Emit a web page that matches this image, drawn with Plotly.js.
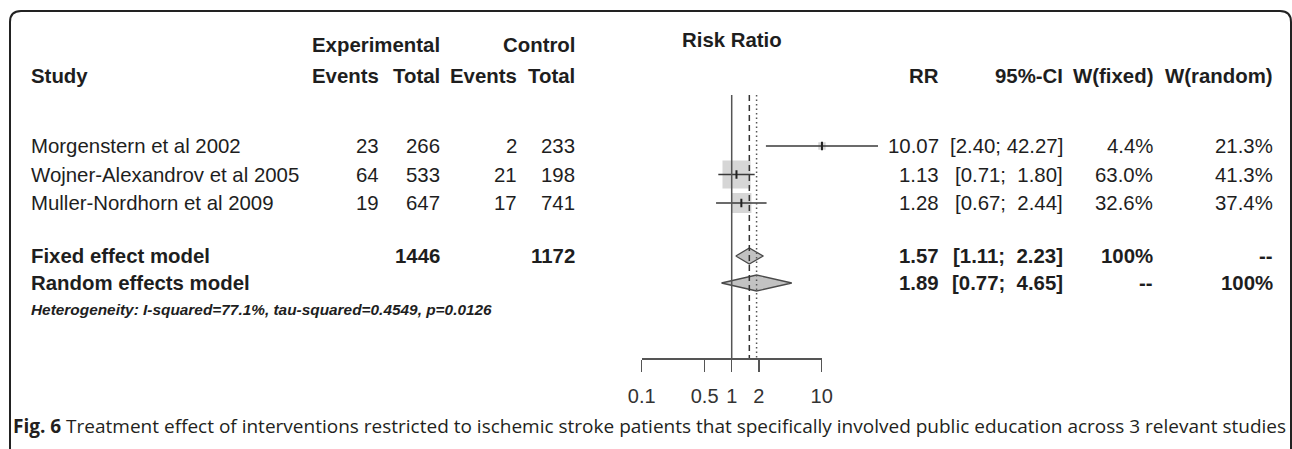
<!DOCTYPE html>
<html>
<head>
<meta charset="utf-8">
<script src="https://cdn.plot.ly/plotly-3.0.1.min.js"></script>
<style>
html,body{margin:0;padding:0;background:#fff;}
#chart{width:1292px;height:449px;}
</style>
</head>
<body>
<div id="chart"></div>
<script>
// ---------------- data ----------------
const studies = ['Morgenstern et al 2002', 'Wojner-Alexandrov et al 2005', 'Muller-Nordhorn et al 2009'];
const expEvents = [23, 64, 19];
const expTotal = [266, 533, 647];
const ctrlEvents = [2, 21, 17];
const ctrlTotal = [233, 198, 741];
const rr = [10.07, 1.13, 1.28];
const ciLow = [2.40, 0.71, 0.67];
const ciHigh = [42.27, 1.80, 2.44];
const wFixed = [4.4, 63.0, 32.6];
const wRandom = [21.3, 41.3, 37.4];

const modelNames = ['Fixed effect model', 'Random effects model'];
const modelRR = [1.57, 1.89];
const modelLow = [1.11, 0.77];
const modelHigh = [2.23, 4.65];
const modelWFixed = ['100%', '--'];
const modelWRandom = ['--', '100%'];
const expTotalSum = 1446;
const ctrlTotalSum = 1172;
const heterogeneity = 'Heterogeneity: I-squared=77.1%, tau-squared=0.4549, p=0.0126';

const tickVals = [0.1, 0.5, 1, 2, 10];
const tickText = ['0.1', '0.5', '1', '2', '10'];
const nullEffect = 1;

const caption = '<b>Fig. 6</b> Treatment effect of interventions restricted to ischemic stroke patients that specifically involved public education across 3 relevant studies';

// ---------------- layout (pixel positions of the rows) ----------------
const W = 1292, H = 449;
const rowY = {
  riskRatio: 40, head1: 45, head2: 76,
  studies: [146, 174.5, 203], models: [256, 283], het: 309,
  axis: 358, refTop: 95, caption: 426
};
const FONT = 'Liberation Sans, Arial, Helvetica, sans-serif';
const FS = 20.4;
const TXT = '#1e1e1e';

const col = {study: 30, expEv: 380, expTot: 441, ctrlEv: 518, ctrlTot: 576,
             rr: 940, ci: 1064, wf: 1154, wr: 1274};

const annotations = [];
function txt(s, x, y, anchor, opt) {
  opt = opt || {};
  annotations.push({
    text: s, xref: 'paper', yref: 'y', x: x / W, y: y,
    xanchor: anchor, yanchor: 'middle', showarrow: false,
    borderpad: 0,
    font: {family: opt.family || FONT, size: opt.size || FS, color: opt.color || TXT}
  });
}
const b = s => '<b>' + s + '</b>';
function fmtCI(lo, hi) {
  const l = lo.toFixed(2), h = hi.toFixed(2);
  const pad = Math.max(0, 5 - h.length);
  return '[' + l + ';\u00a0' + '\u00a0'.repeat(pad) + h + ']';
}

// headers
txt(b('Experimental'), col.expTot, rowY.head1, 'right');
txt(b('Control'), col.ctrlTot, rowY.head1, 'right');
txt(b('Risk Ratio'), 731.7, rowY.riskRatio, 'center');
txt(b('Study'), col.study, rowY.head2, 'left');
txt(b('Events'), col.expEv, rowY.head2, 'right');
txt(b('Total'), col.expTot, rowY.head2, 'right');
txt(b('Events'), col.ctrlEv, rowY.head2, 'right');
txt(b('Total'), col.ctrlTot, rowY.head2, 'right');
txt(b('RR'), col.rr, rowY.head2, 'right');
txt(b('95%-CI'), col.ci, rowY.head2, 'right');
txt(b('W(fixed)'), col.wf, rowY.head2, 'right');
txt(b('W(random)'), col.wr, rowY.head2, 'right');

// study rows
studies.forEach((s, i) => {
  const r = rowY.studies[i];
  txt(s, col.study, r, 'left');
  txt(String(expEvents[i]), col.expEv, r, 'right');
  txt(String(expTotal[i]), col.expTot, r, 'right');
  txt(String(ctrlEvents[i]), col.ctrlEv, r, 'right');
  txt(String(ctrlTotal[i]), col.ctrlTot, r, 'right');
  txt(rr[i].toFixed(2), col.rr, r, 'right');
  txt(fmtCI(ciLow[i], ciHigh[i]), col.ci, r, 'right');
  txt(wFixed[i].toFixed(1) + '%', col.wf, r, 'right');
  txt(wRandom[i].toFixed(1) + '%', col.wr, r, 'right');
});

// model rows
modelNames.forEach((m, i) => {
  const r = rowY.models[i];
  txt(b(m), col.study, r, 'left');
  if (i === 0) {
    txt(b(String(expTotalSum)), col.expTot, r, 'right');
    txt(b(String(ctrlTotalSum)), col.ctrlTot, r, 'right');
  }
  txt(b(modelRR[i].toFixed(2)), col.rr, r, 'right');
  txt(b(fmtCI(modelLow[i], modelHigh[i])), col.ci, r, 'right');
  txt(b(modelWFixed[i]), col.wf, r, 'right');
  txt(b(modelWRandom[i]), col.wr, r, 'right');
});

txt('<b><i>' + heterogeneity + '</i></b>', col.study, rowY.het, 'left', {size: 15.4});

// caption
annotations.push({
  text: caption, xref: 'paper', yref: 'y', x: 12 / W, y: rowY.caption,
  xanchor: 'left', yanchor: 'middle', showarrow: false, borderpad: 0,
  font: {family: 'Open Sans, Noto Sans, sans-serif', size: 19, color: '#231f20'}
});

// ---------------- traces ----------------
const traces = [];
const boxTrace = () => ({
  type: 'scatter', mode: 'markers', x: rr, y: rowY.studies, xaxis: 'x', yaxis: 'y',
  marker: {symbol: 'square', size: wFixed.map(w => 28 * Math.sqrt(w / 63)), color: '#c4c4c4', line: {width: 0}},
  hoverinfo: 'skip', showlegend: false
});
const cx = [], cy = [];
studies.forEach((s, i) => { cx.push(ciLow[i], ciHigh[i], null); cy.push(rowY.studies[i], rowY.studies[i], null); });
const ciTrace = () => ({
  type: 'scatter', mode: 'lines', x: cx, y: cy, xaxis: 'x', yaxis: 'y',
  line: {color: '#3a3a3a', width: 1.6}, hoverinfo: 'skip', showlegend: false
});
const ptTrace = () => ({
  type: 'scatter', mode: 'markers', x: rr, y: rowY.studies, xaxis: 'x', yaxis: 'y',
  marker: {symbol: 'line-ns-open', size: 6, color: '#222', line: {width: 2, color: '#222'}},
  hoverinfo: 'skip', showlegend: false
});

// reference lines (on the displayed axis)
const refLines = [
  {x: nullEffect, dash: 'solid', color: '#555', width: 1.5},
  {x: modelRR[0], dash: '6px,4px', color: '#333', width: 1.5},
  {x: modelRR[1], dash: '1.5px,3px', color: '#555', width: 1.5}
];
refLines.forEach(l => {
  traces.push({
    type: 'scatter', mode: 'lines', x: [l.x, l.x], y: [rowY.refTop, rowY.axis], xaxis: 'x2', yaxis: 'y',
    line: {color: l.color, width: l.width, dash: l.dash}, hoverinfo: 'skip', showlegend: false
  });
});
traces.push(boxTrace(), ciTrace(), ptTrace());

// diamonds
const dh = 8;
modelNames.forEach((m, i) => {
  const r = rowY.models[i];
  traces.push({
    type: 'scatter', mode: 'lines', fill: 'toself', fillcolor: '#c2c2c2',
    x: [modelLow[i], modelRR[i], modelHigh[i], modelRR[i], modelLow[i]],
    y: [r, r - dh, r, r + dh, r], xaxis: 'x', yaxis: 'y',
    line: {color: '#4a4a4a', width: 1.3}, hoverinfo: 'skip', showlegend: false
  });
});

const x0 = 641.7, dec = 90;
const layout = {
  width: W, height: H, autosize: false,
  margin: {l: 0, r: 0, t: 0, b: 0, pad: 0},
  paper_bgcolor: '#fff', plot_bgcolor: 'rgba(0,0,0,0)',
  showlegend: false,
  xaxis: {
    type: 'log', domain: [x0 / W, (x0 + 2.7 * dec) / W], range: [-1, 1.7],
    visible: false, fixedrange: true
  },
  xaxis2: {
    type: 'log', domain: [x0 / W, (x0 + 2 * dec) / W], range: [-1, 1],
    anchor: 'free', position: (H - rowY.axis) / H,
    tickmode: 'array', tickvals: tickVals, ticktext: tickText,
    ticks: 'outside', ticklen: 12, tickwidth: 1.5, tickcolor: '#555',
    ticklabelstandoff: 7,
    showline: true, linecolor: '#555', linewidth: 1.5,
    showgrid: false, zeroline: false, fixedrange: true,
    tickfont: {family: FONT, size: 20, color: '#333'}
  },
  yaxis: {
    domain: [0, 1], range: [H, 0],
    visible: false, fixedrange: true
  },
  annotations: annotations,
  shapes: [{
    type: 'path', xref: 'paper', yref: 'paper',
    path: 'M ' + (10 / W) + ',-0.05 L ' + (10 / W) + ',' + (1 - 22 / H) +
          ' Q ' + (10 / W) + ',' + (1 - 11 / H) + ' ' + (21 / W) + ',' + (1 - 11 / H) +
          ' L ' + (1280 / W) + ',' + (1 - 11 / H) +
          ' Q ' + (1291 / W) + ',' + (1 - 11 / H) + ' ' + (1291 / W) + ',' + (1 - 22 / H) +
          ' L ' + (1291 / W) + ',-0.05',
    line: {color: '#222', width: 2}
  }]
};

Plotly.newPlot('chart', traces, layout, {displayModeBar: false, staticPlot: true});
</script>
</body>
</html>
